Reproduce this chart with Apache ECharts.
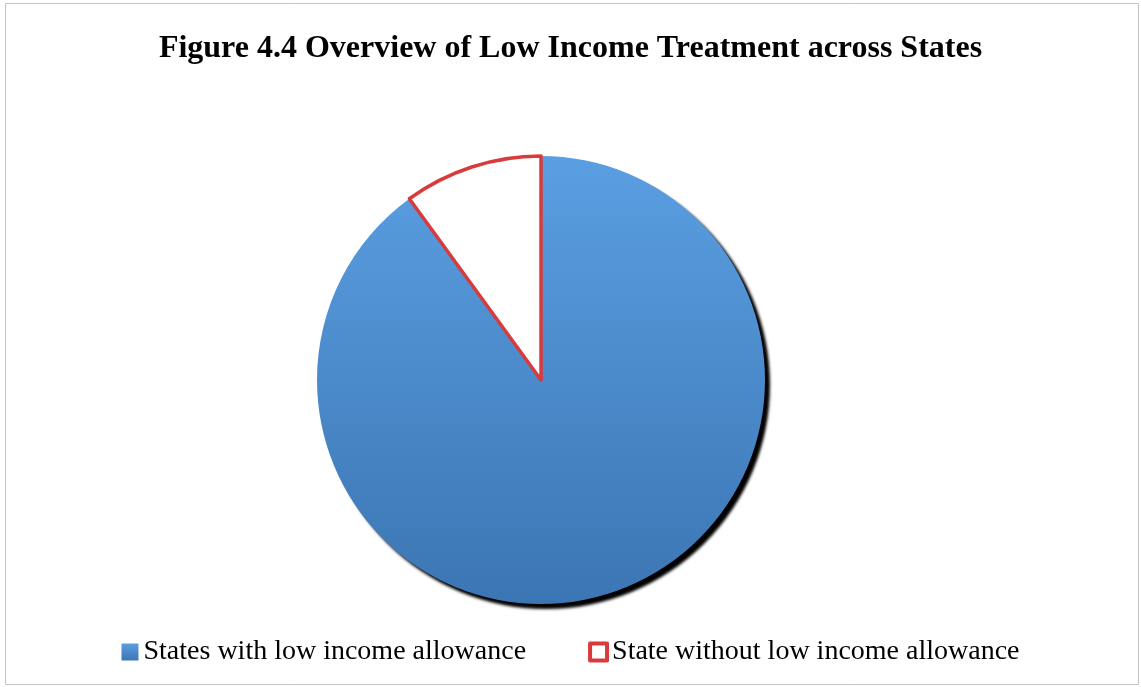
<!DOCTYPE html>
<html>
<head>
<meta charset="utf-8">
<script src="https://cdn.jsdelivr.net/npm/echarts@6/dist/echarts.min.js"></script>
<style>
  html, body { margin: 0; padding: 0; background: #fff; }
  #chart { width: 1141px; height: 687px; }
</style>
</head>
<body>
<div id="chart"></div>
<script>
// slice names and their share of states
const categories = ['States with low income allowance', 'State without low income allowance'];
const values = [45, 5];

const chart = echarts.init(document.getElementById('chart'));

// blue slice: lighter at top, darker toward bottom
const blueFill = new echarts.graphic.LinearGradient(0, 0, 0, 1, [
    { offset: 0, color: '#5a9fe2' },
    { offset: 1, color: '#3c75b3' }
]);

chart.setOption({
    animation: false,
    title: {
        text: 'Figure 4.4 Overview of Low Income Treatment across States',
        left: 'center',
        top: 28,
        textStyle: {
            fontFamily: 'Liberation Serif',
            fontWeight: 'bold',
            fontSize: 32,
            color: '#000'
        }
    },
    legend: {
        bottom: 16,
        left: 'center',
        icon: 'rect',
        itemWidth: 17,
        itemHeight: 17,
        itemGap: 62,
        textStyle: {
            fontFamily: 'Liberation Serif',
            fontSize: 28,
            color: '#000'
        },
        data: [
            { name: categories[0] },
            { name: categories[1], itemStyle: { borderWidth: 4, borderColor: '#d93a3c' } }
        ]
    },
    graphic: [{
        type: 'rect',
        shape: { x: 5.5, y: 3.5, width: 1133, height: 681 },
        style: { fill: 'none', stroke: '#c4c4c4', lineWidth: 1 },
        silent: true
    }],
    series: [{
        type: 'pie',
        center: [541, 380],
        radius: 224,
        startAngle: 90,
        clockwise: true,
        label: { show: false },
        labelLine: { show: false },
        emphasis: { disabled: true },
        data: [
            {
                name: categories[0],
                value: values[0],
                itemStyle: {
                    color: blueFill,
                    shadowColor: 'rgba(0,0,0,1)',
                    shadowBlur: 3,
                    shadowOffsetX: 5,
                    shadowOffsetY: 5
                }
            },
            {
                name: categories[1],
                value: values[1],
                itemStyle: {
                    color: '#ffffff',
                    borderColor: '#d93a3c',
                    borderWidth: 3.5
                }
            }
        ]
    }]
});
</script>
</body>
</html>
